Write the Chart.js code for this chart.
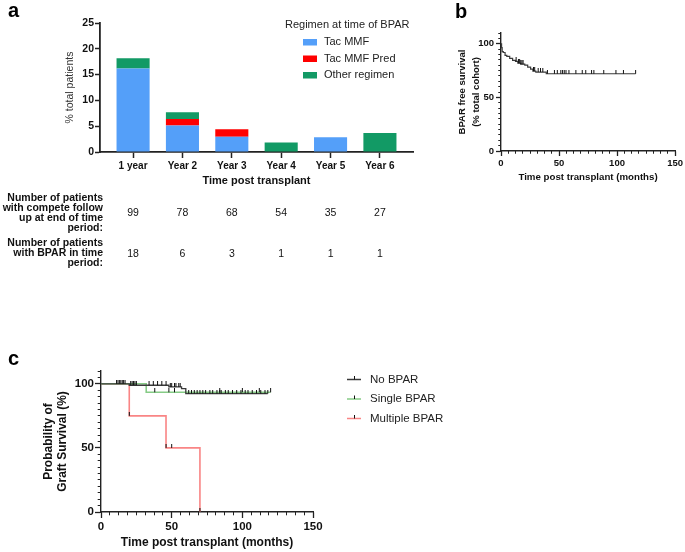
<!DOCTYPE html>
<html><head><meta charset="utf-8">
<script src="https://cdn.jsdelivr.net/npm/chart.js@4.4.1/dist/chart.umd.min.js"></script>
<style>
html,body{margin:0;padding:0;background:#fff;width:685px;height:552px;overflow:hidden;position:relative;}
canvas{position:absolute;}
.lbl{position:absolute;font-family:"Liberation Sans",Arial,sans-serif;font-weight:bold;font-size:20px;line-height:20px;color:#000;}
</style></head><body>
<canvas id="ca" width="430" height="272" style="left:0;top:0"></canvas>
<canvas id="cb" width="255" height="190" style="left:430px;top:0"></canvas>
<canvas id="cc" width="685" height="222" style="left:0;top:330px"></canvas>
<div class="lbl" style="left:8px;top:0px">a</div>
<div class="lbl" style="left:455px;top:1px">b</div>
<div class="lbl" style="left:8px;top:348px">c</div>
<script>
// ---------- Panel a data ----------
const categories = ['1 year', 'Year 2', 'Year 3', 'Year 4', 'Year 5', 'Year 6'];
const tacMMF = [16.16, 5.13, 2.94, 0, 2.86, 0];
const tacMMFPred = [0, 1.28, 1.47, 0, 0, 0];
const otherRegimen = [2.02, 1.28, 0, 1.85, 0, 3.70];
const yTicksA = [0, 5, 10, 15, 20, 25];
const followUpCounts = [99, 78, 68, 54, 35, 27];
const bparCounts = [18, 6, 3, 1, 1, 1];
const rowLabel1 = ['Number of patients', 'with compete follow', 'up at end of time', 'period:'];
const rowLabel2 = ['Number of patients', 'with BPAR in time', 'period:'];

// ---------- Panel b data ----------
const bTime = [0, 0.5, 1, 2, 3.5, 5, 7.5, 10, 12.5, 14.5, 17, 20.5, 23, 25.5, 27.5, 30, 39, 116];
const bSurv = [100, 96.4, 92.7, 91.8, 89.1, 88.2, 86.4, 84.5, 83.6, 81.8, 80.9, 80.0, 78.2, 76.4, 74.5, 73.6, 72.0, 72.0];
const bCensorTime = [13, 15, 16, 17, 18, 19, 28, 29, 32, 34, 36, 40, 46, 48.5, 51.5, 53, 54.5, 56, 58.5, 64.5, 70, 73, 78, 80, 88.5, 99, 105.5, 116];
const bCensorSurv = [83.6, 81.8, 81.8, 80.9, 80.9, 80.9, 74.5, 74.5, 73.6, 73.6, 73.6, 72, 72, 72, 72, 72, 72, 72, 72, 72, 72, 72, 72, 72, 72, 72, 72, 72];

// ---------- Panel c data ----------
const noBparTime = [0, 20, 48, 57, 60, 118];
const noBparSurv = [100, 98.9, 97.6, 96.3, 92.4, 92.4];
const singleTime = [0, 32, 120];
const singleSurv = [100, 93.4, 93.4];
const multiTime = [0, 20, 46, 70];
const multiSurv = [100, 75, 50, 0];
const noBparCensorTime = [11, 12, 13, 14, 15, 16, 17, 21, 22, 23, 24, 25, 34, 37, 40, 43, 46, 49, 50, 52, 53, 55, 56, 62, 64, 66, 68, 70, 72, 74, 77, 79, 82, 84, 85, 88, 90, 93, 96, 99, 102, 104, 107, 110, 113, 116, 118];
const noBparCensorSurv = [100, 100, 100, 100, 100, 100, 100, 98.9, 98.9, 98.9, 98.9, 98.9, 98.9, 98.9, 98.9, 98.9, 98.9, 97.6, 97.6, 97.6, 97.6, 97.6, 97.6, 92.4, 92.4, 92.4, 92.4, 92.4, 92.4, 92.4, 92.4, 92.4, 92.4, 92.4, 92.4, 92.4, 92.4, 92.4, 92.4, 92.4, 92.4, 92.4, 92.4, 92.4, 92.4, 92.4, 92.4];
const singleCensorTime = [38, 48, 52, 84, 100, 112, 120];
const singleCensorSurv = [93.4, 93.4, 93.4, 93.4, 93.4, 93.4, 93.4];
const multiCensorTime = [20, 46, 50, 70];
const multiCensorSurv = [75, 50, 50, 0];
const kmLegendLabels = ['No BPAR', 'Single BPAR', 'Multiple BPAR'];

// ---------- axis tick values (b & c) ----------
const kmXMajor = [0, 50, 100, 150];
const kmXMinor = [0, 6.25, 12.5, 18.75, 25, 31.25, 37.5, 43.75, 50, 56.25, 62.5, 68.75, 75, 81.25, 87.5, 93.75, 100, 106.25, 112.5, 118.75, 125, 131.25, 137.5, 143.75, 150];
const kmYMajor = [0, 50, 100];
const kmYMinor = [0, 5, 10, 15, 20, 25, 30, 35, 40, 45, 50, 55, 60, 65, 70, 75, 80, 85, 90, 95, 100, 105, 110];

// ---------- styles ----------
const FONT = "'Liberation Sans', Arial, sans-serif";
const AX = '#222';
const TXT = '#111';
const BLUE = '#549ff9';
const RED = '#ff0000';
const GREEN = '#129a65';
const KM_BLACK = '#3a3a3a';
const KM_GREEN = '#86cb86';
const KM_RED = '#f98585';

function pts(xs, ys) { return xs.map((x, i) => ({ x: x, y: ys[i] })); }

function censorMark() {
  const c = document.createElement('canvas');
  c.width = 3; c.height = 8;
  const g = c.getContext('2d');
  g.fillStyle = '#111';
  g.fillRect(1, 0, 1, 4);
  return c;
}
const MARK = censorMark();

// ================= Panel a =================
const tablePlugin = {
  id: 'tableText',
  afterDraw(chart) {
    const ctx = chart.ctx, xs = chart.scales.x;
    ctx.save();
    ctx.fillStyle = TXT;
    ctx.textBaseline = 'middle';
    ctx.font = 'bold 10.5px ' + FONT;
    ctx.textAlign = 'right';
    rowLabel1.forEach((t, i) => ctx.fillText(t, 103, 198 + i * 10));
    rowLabel2.forEach((t, i) => ctx.fillText(t, 103, 243 + i * 10));
    ctx.font = '10.5px ' + FONT;
    ctx.textAlign = 'center';
    followUpCounts.forEach((v, i) => ctx.fillText(String(v), xs.getPixelForValue(i), 213));
    bparCounts.forEach((v, i) => ctx.fillText(String(v), xs.getPixelForValue(i), 254));
    ctx.restore();
  }
};
const legendA = {
  id: 'legendA',
  afterDraw(chart) {
    const ctx = chart.ctx;
    ctx.save();
    ctx.textBaseline = 'middle';
    ctx.textAlign = 'left';
    ctx.font = '11px ' + FONT;
    ctx.fillStyle = '#222';
    ctx.fillText('Regimen at time of BPAR', 285, 25);
    chart.data.datasets.forEach((d, i) => {
      const y = 42 + i * 16.5;
      ctx.fillStyle = d.backgroundColor;
      ctx.fillRect(303, y - 3, 14, 6.5);
      ctx.fillStyle = '#222';
      ctx.fillText(d.label, 324, y);
    });
    ctx.restore();
  }
};

new Chart(document.getElementById('ca'), {
  type: 'bar',
  data: {
    datasets: [
      { label: 'Tac MMF', data: pts(categories.map((c, i) => i), tacMMF), backgroundColor: BLUE },
      { label: 'Tac MMF Pred', data: pts(categories.map((c, i) => i), tacMMFPred), backgroundColor: RED },
      { label: 'Other regimen', data: pts(categories.map((c, i) => i), otherRegimen), backgroundColor: GREEN }
    ]
  },
  options: {
    responsive: false, animation: false, devicePixelRatio: 1,
    layout: { padding: { left: 0, top: 23, right: 17, bottom: 80 } },
    datasets: { bar: { barPercentage: 0.67, categoryPercentage: 1, borderWidth: 0 } },
    plugins: { legend: { display: false }, tooltip: { enabled: false } },
    scales: {
      x: {
        type: 'linear', stacked: true, min: -0.67, max: 5.67, offset: false,
        afterBuildTicks: s => { s.ticks = categories.map((c, i) => ({ value: i })); },
        afterFit: s => { s.height = 40; },
        grid: { display: true, offset: false, drawOnChartArea: false, drawTicks: true, tickLength: 6, tickColor: AX, tickWidth: 1.5 },
        border: { display: true, color: AX, width: 1.8 },
        ticks: { callback: v => categories[v], font: { family: FONT, size: 10, weight: 'bold' }, color: TXT, padding: 2, maxRotation: 0, autoSkip: false },
        title: { display: true, text: 'Time post transplant', font: { family: FONT, size: 11, weight: 'bold' }, color: TXT, padding: { top: 0, bottom: 4 } }
      },
      y: {
        stacked: true, min: 0, max: 25,
        afterBuildTicks: s => { s.ticks = yTicksA.map(v => ({ value: v })); },
        afterFit: s => { s.width = 100; },
        grid: { display: true, drawOnChartArea: false, drawTicks: true, tickLength: 5, tickColor: AX, tickWidth: 1.5 },
        border: { display: true, color: AX, width: 1.8 },
        ticks: { font: { family: FONT, size: 10.5, weight: 'bold' }, color: TXT, padding: 1 },
        title: { display: true, text: '% total patients', font: { family: FONT, size: 10.5 }, color: '#333', padding: { top: 64, bottom: 0 } }
      }
    }
  },
  plugins: [tablePlugin, legendA]
});

// ================= KM helpers =================
function kmScales(o) {
  return {
    x: {
      type: 'linear', position: 'bottom', min: 0, max: 150, weight: 1,
      afterBuildTicks: s => { s.ticks = kmXMajor.map(v => ({ value: v })); },
      afterFit: s => { s.height = o.xh; },
      grid: { display: true, drawOnChartArea: false, drawTicks: true, tickLength: o.tl, tickColor: AX, tickWidth: 1.3 },
      border: { display: true, color: AX, width: 1.4 },
      ticks: { font: { family: FONT, size: o.tick, weight: 'bold' }, color: TXT, padding: o.xpad, maxRotation: 0, autoSkip: false },
      title: { display: true, text: 'Time post transplant (months)', font: { family: FONT, size: o.xt, weight: 'bold' }, color: TXT, padding: { top: 0, bottom: o.xtpad } }
    },
    xMinor: {
      type: 'linear', position: 'bottom', min: 0, max: 150, weight: 0,
      afterBuildTicks: s => { s.ticks = kmXMinor.map(v => ({ value: v })); },
      afterFit: s => { s.height = 0; },
      grid: { display: true, drawOnChartArea: false, drawTicks: true, tickLength: o.tl * 0.55, tickColor: AX, tickWidth: 1 },
      border: { display: false },
      ticks: { display: false }
    },
    y: {
      type: 'linear', position: 'left', min: 0, max: 110, weight: 1,
      afterBuildTicks: s => { s.ticks = kmYMajor.map(v => ({ value: v })); },
      afterFit: s => { s.width = o.yw; },
      grid: { display: true, drawOnChartArea: false, drawTicks: true, tickLength: o.tl, tickColor: AX, tickWidth: 1.3 },
      border: { display: true, color: AX, width: 1.4 },
      ticks: { font: { family: FONT, size: o.tick, weight: 'bold' }, color: TXT, padding: o.ypad },
      title: { display: true, text: o.ytitle, font: { family: FONT, size: o.yt, weight: 'bold', lineHeight: o.ylh }, color: TXT, padding: { top: o.ytpad, bottom: 0 } }
    },
    yMinor: {
      type: 'linear', position: 'left', min: 0, max: 110, weight: 0,
      afterBuildTicks: s => { s.ticks = kmYMinor.map(v => ({ value: v })); },
      afterFit: s => { s.width = 0; },
      grid: { display: true, drawOnChartArea: false, drawTicks: true, tickLength: o.tl * 0.55, tickColor: AX, tickWidth: 1 },
      border: { display: false },
      ticks: { display: false }
    }
  };
}
function censorSet(xs, ys) {
  return { type: 'scatter', data: pts(xs, ys), pointStyle: MARK, pointRadius: 3, showLine: false, order: 0 };
}
function kmLine(xs, ys, color, order, w) {
  return { type: 'line', data: pts(xs, ys), borderColor: color, borderWidth: w, stepped: true, pointRadius: 0, fill: false, order: order };
}

// ================= Panel b =================
new Chart(document.getElementById('cb'), {
  type: 'line',
  data: { datasets: [censorSet(bCensorTime, bCensorSurv), kmLine(bTime, bSurv, KM_BLACK, 1, 1.2)] },
  options: {
    responsive: false, animation: false, devicePixelRatio: 1,
    layout: { padding: { left: 0, top: 33, right: 8, bottom: 2 } },
    plugins: { legend: { display: false }, tooltip: { enabled: false } },
    scales: kmScales({ xh: 37, yw: 71, tl: 5, tick: 9.5, xpad: 2, ypad: 2, xt: 9.7, xtpad: 5, yt: 9.5, ylh: 1.47, ytpad: 25, ytitle: ['BPAR free survival', '(% total cohort)'] })
  }
});

// ================= Panel c =================
const legendC = {
  id: 'legendC',
  afterDraw(chart) {
    const ctx = chart.ctx;
    const cols = [KM_BLACK, KM_GREEN, KM_RED];
    ctx.save();
    ctx.font = '11.5px ' + FONT;
    ctx.textBaseline = 'middle';
    ctx.textAlign = 'left';
    kmLegendLabels.forEach((t, i) => {
      const y = 49.5 + i * 19.5;
      ctx.strokeStyle = cols[i];
      ctx.lineWidth = 1.5;
      ctx.beginPath(); ctx.moveTo(347, y); ctx.lineTo(361, y); ctx.stroke();
      ctx.strokeStyle = '#111';
      ctx.lineWidth = 1;
      ctx.beginPath(); ctx.moveTo(354.5, y - 3.5); ctx.lineTo(354.5, y); ctx.stroke();
      ctx.fillStyle = '#222';
      ctx.fillText(t, 370, y);
    });
    ctx.restore();
  }
};
new Chart(document.getElementById('cc'), {
  type: 'line',
  data: {
    datasets: [
      censorSet(noBparCensorTime, noBparCensorSurv),
      censorSet(singleCensorTime, singleCensorSurv),
      censorSet(multiCensorTime, multiCensorSurv),
      kmLine(noBparTime, noBparSurv, KM_BLACK, 1, 1.3),
      kmLine(singleTime, singleSurv, KM_GREEN, 2, 1.6),
      kmLine(multiTime, multiSurv, KM_RED, 3, 1.6)
    ]
  },
  options: {
    responsive: false, animation: false, devicePixelRatio: 1,
    layout: { padding: { left: 0, top: 41, right: 372, bottom: 2 } },
    plugins: { legend: { display: false }, tooltip: { enabled: false } },
    scales: kmScales({ xh: 38, yw: 101, tl: 6, tick: 11.5, xpad: 2, ypad: 1, xt: 12, xtpad: 0, yt: 12, ylh: 1.17, ytpad: 42, ytitle: ['Probability of', 'Graft Survival (%)'] })
  },
  plugins: [legendC]
});
</script>
</body></html>
